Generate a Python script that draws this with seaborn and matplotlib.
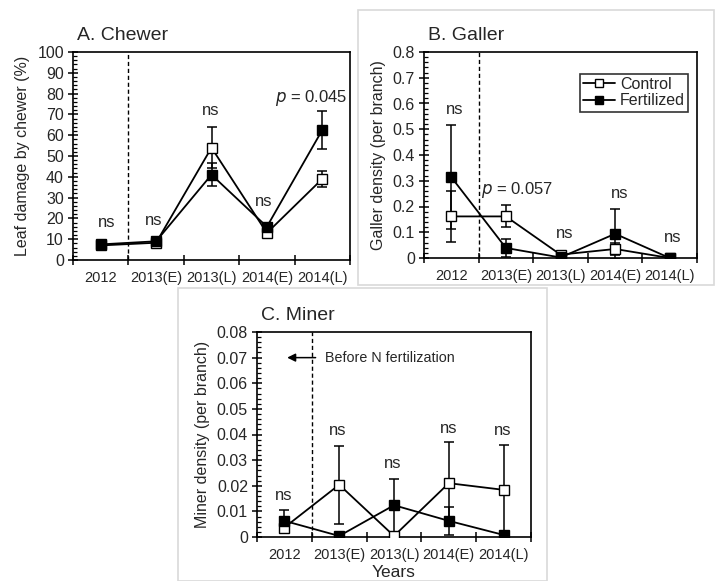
import numpy as np
import pandas as pd
import matplotlib
matplotlib.use("Agg")
import matplotlib.pyplot as plt
import seaborn as sns
from matplotlib.ticker import AutoMinorLocator, FuncFormatter, FixedLocator, NullFormatter
from matplotlib.lines import Line2D
from matplotlib.patches import Rectangle

# ---------------- data ----------------
categories = ["2012", "2013(E)", "2013(L)", "2014(E)", "2014(L)"]

chewer_control = [7.0, 8.3, 54.0, 13.0, 39.0]
chewer_control_err = [1.0, 2.0, 10.0, 2.0, 3.8]
chewer_fert = [7.5, 9.0, 41.0, 16.0, 62.5]
chewer_fert_err = [1.0, 1.5, 5.5, 2.0, 9.0]

galler_control = [0.1615, 0.1615, 0.013, 0.035, 0.0]
galler_control_err = [0.100, 0.043, 0.006, 0.022, 0.0]
galler_fert = [0.314, 0.039, 0.002, 0.094, 0.0]
galler_fert_err = [0.203, 0.035, 0.002, 0.097, 0.0]

miner_control = [0.0037, 0.0204, 0.0004, 0.0210, 0.0184]
miner_control_err = [0.002, 0.0152, 0.0003, 0.016, 0.0175]
miner_fert = [0.0063, 0.0004, 0.0124, 0.0063, 0.0008]
miner_fert_err = [0.0042, 0.0, 0.0104, 0.0055, 0.0]

series_names = ["Control", "Fertilized"]

# ---------------- style ----------------
sns.set_style("white")
plt.rcParams["font.family"] = ["Liberation Sans", "DejaVu Sans"]
plt.rcParams["axes.linewidth"] = 1.2

fig = plt.figure(figsize=(7.15, 5.81), dpi=100)

# panel borders (light gray frames)
fig.add_artist(Rectangle((358 / 715, (581 - 285) / 581), (714 - 358) / 715, (285 - 10) / 581,
                         transform=fig.transFigure, fill=False, edgecolor="#d9d9d9", lw=1.2))
fig.add_artist(Rectangle((178 / 715, 0.0), (547 - 178) / 715, (581 - 288) / 581,
                         transform=fig.transFigure, fill=False, edgecolor="#d9d9d9", lw=1.2))

W, H = 715, 581


def axes_px(left, right, top, bottom):
    return fig.add_axes([left / W, (H - bottom) / H, (right - left) / W, (bottom - top) / H])


axA = axes_px(73, 350, 52, 260)
axB = axes_px(424, 697, 52, 258)
axC = axes_px(257, 531, 332, 537)

pos = np.arange(len(categories)) + 0.5


def fmt(v, _):
    if abs(v) < 1e-12:
        return "0"
    return f"{v:g}"


def draw_panel(ax, ctrl, ctrl_err, fert, fert_err, ymax, ystep, ylabel, title):
    df = pd.DataFrame({
        "pos": np.concatenate([pos, pos]),
        "value": np.concatenate([ctrl, fert]),
        "err": np.concatenate([ctrl_err, fert_err]),
        "treatment": [series_names[0]] * len(pos) + [series_names[1]] * len(pos),
    })
    for name, face in zip(series_names, ["white", "black"]):
        d = df[df["treatment"] == name]
        ax.errorbar(d["pos"], d["value"], yerr=d["err"], fmt="none", ecolor="black",
                    elinewidth=1.1, capsize=3.5, capthick=1.1, zorder=2)
        sns.lineplot(data=d, x="pos", y="value", ax=ax, color="black", linewidth=1.3,
                     marker="s", markersize=6.5, markerfacecolor=face,
                     markeredgecolor="black", markeredgewidth=1.0, zorder=3,
                     legend=False)
    ax.axvline(1.0, color="black", linestyle=(0, (3, 2)), linewidth=1.0, zorder=1)
    ax.set_xlim(0, 5)
    ax.set_ylim(0, ymax)
    ax.xaxis.set_major_locator(FixedLocator(np.arange(0, 6)))
    ax.xaxis.set_major_formatter(NullFormatter())
    ax.xaxis.set_minor_locator(FixedLocator(pos))
    ax.xaxis.set_minor_formatter(FuncFormatter(lambda v, i: categories[int(v)]))
    ax.tick_params(axis="x", which="both", bottom=True, top=False)
    ax.tick_params(axis="y", which="both", left=True, right=False)
    ax.tick_params(axis="x", which="major", direction="inout", length=7, width=1.1, color="black")
    ax.tick_params(axis="x", which="minor", length=0, labelsize=10.5, pad=8)
    ax.set_yticks(np.arange(0, ymax + ystep / 2, ystep))
    ax.yaxis.set_major_formatter(FuncFormatter(fmt))
    ax.yaxis.set_minor_locator(AutoMinorLocator(5))
    ax.tick_params(axis="y", which="major", direction="inout", length=7, width=1.1,
                   labelsize=11.5, color="black", pad=3)
    ax.tick_params(axis="y", which="minor", direction="in", length=3, width=0.9, color="black")
    ax.set_ylabel(ylabel, fontsize=11.5, labelpad=5)
    ax.set_xlabel("")
    for s in ax.spines.values():
        s.set_color("black")
        s.set_linewidth(1.2)
    ax.text(0.015, 1.04, title, transform=ax.transAxes, fontsize=14, ha="left", va="bottom")


draw_panel(axA, chewer_control, chewer_control_err, chewer_fert, chewer_fert_err,
           100, 10, "Leaf damage by chewer (%)", "A. Chewer")
draw_panel(axB, galler_control, galler_control_err, galler_fert, galler_fert_err,
           0.8, 0.1, "Galler density (per branch)", "B. Galler")
draw_panel(axC, miner_control, miner_control_err, miner_fert, miner_fert_err,
           0.08, 0.01, "Miner density (per branch)", "C. Miner")

axC.set_xlabel("Years", fontsize=12.5, labelpad=2)

ts = 12
# Panel A annotations
for x, y in [(0.6, 18), (1.45, 19), (2.49, 72), (3.45, 28)]:
    axA.text(x, y, "ns", ha="center", va="center", fontsize=ts)
axA.text(4.3, 78, r"$\it{p}$ = 0.045", ha="center", va="center", fontsize=ts)

# Panel B annotations
for x, y in [(0.57, 0.575), (2.58, 0.097), (3.59, 0.25), (4.56, 0.08)]:
    axB.text(x, y, "ns", ha="center", va="center", fontsize=ts)
axB.text(1.04, 0.264, r"$\it{p}$ = 0.057", ha="left", va="center", fontsize=ts)

# Panel C annotations
for x, y in [(0.49, 0.016), (1.48, 0.0414), (2.48, 0.0285), (3.49, 0.0425), (4.49, 0.0414)]:
    axC.text(x, y, "ns", ha="center", va="center", fontsize=ts)
axC.annotate("", xy=(0.5, 0.07), xytext=(1.12, 0.07),
             arrowprops=dict(arrowstyle="-|>", color="black", lw=1.1, mutation_scale=12))
axC.text(1.24, 0.07, "Before N fertilization", ha="left", va="center", fontsize=10.3)

# Legend in panel B
handles = [
    Line2D([], [], color="black", lw=1.3, marker="s", markersize=6, markerfacecolor="white",
           markeredgecolor="black"),
    Line2D([], [], color="black", lw=1.3, marker="s", markersize=6, markerfacecolor="black",
           markeredgecolor="black"),
]
leg = axB.legend(handles, series_names, loc="upper right", bbox_to_anchor=(0.967, 0.895),
                 fontsize=11.5, frameon=True, fancybox=False, edgecolor="black",
                 handlelength=2.0, handletextpad=0.3, borderpad=0.2, labelspacing=0.1,
                 borderaxespad=0)
leg.get_frame().set_linewidth(1.2)

fig.savefig("out.png", dpi=100)
